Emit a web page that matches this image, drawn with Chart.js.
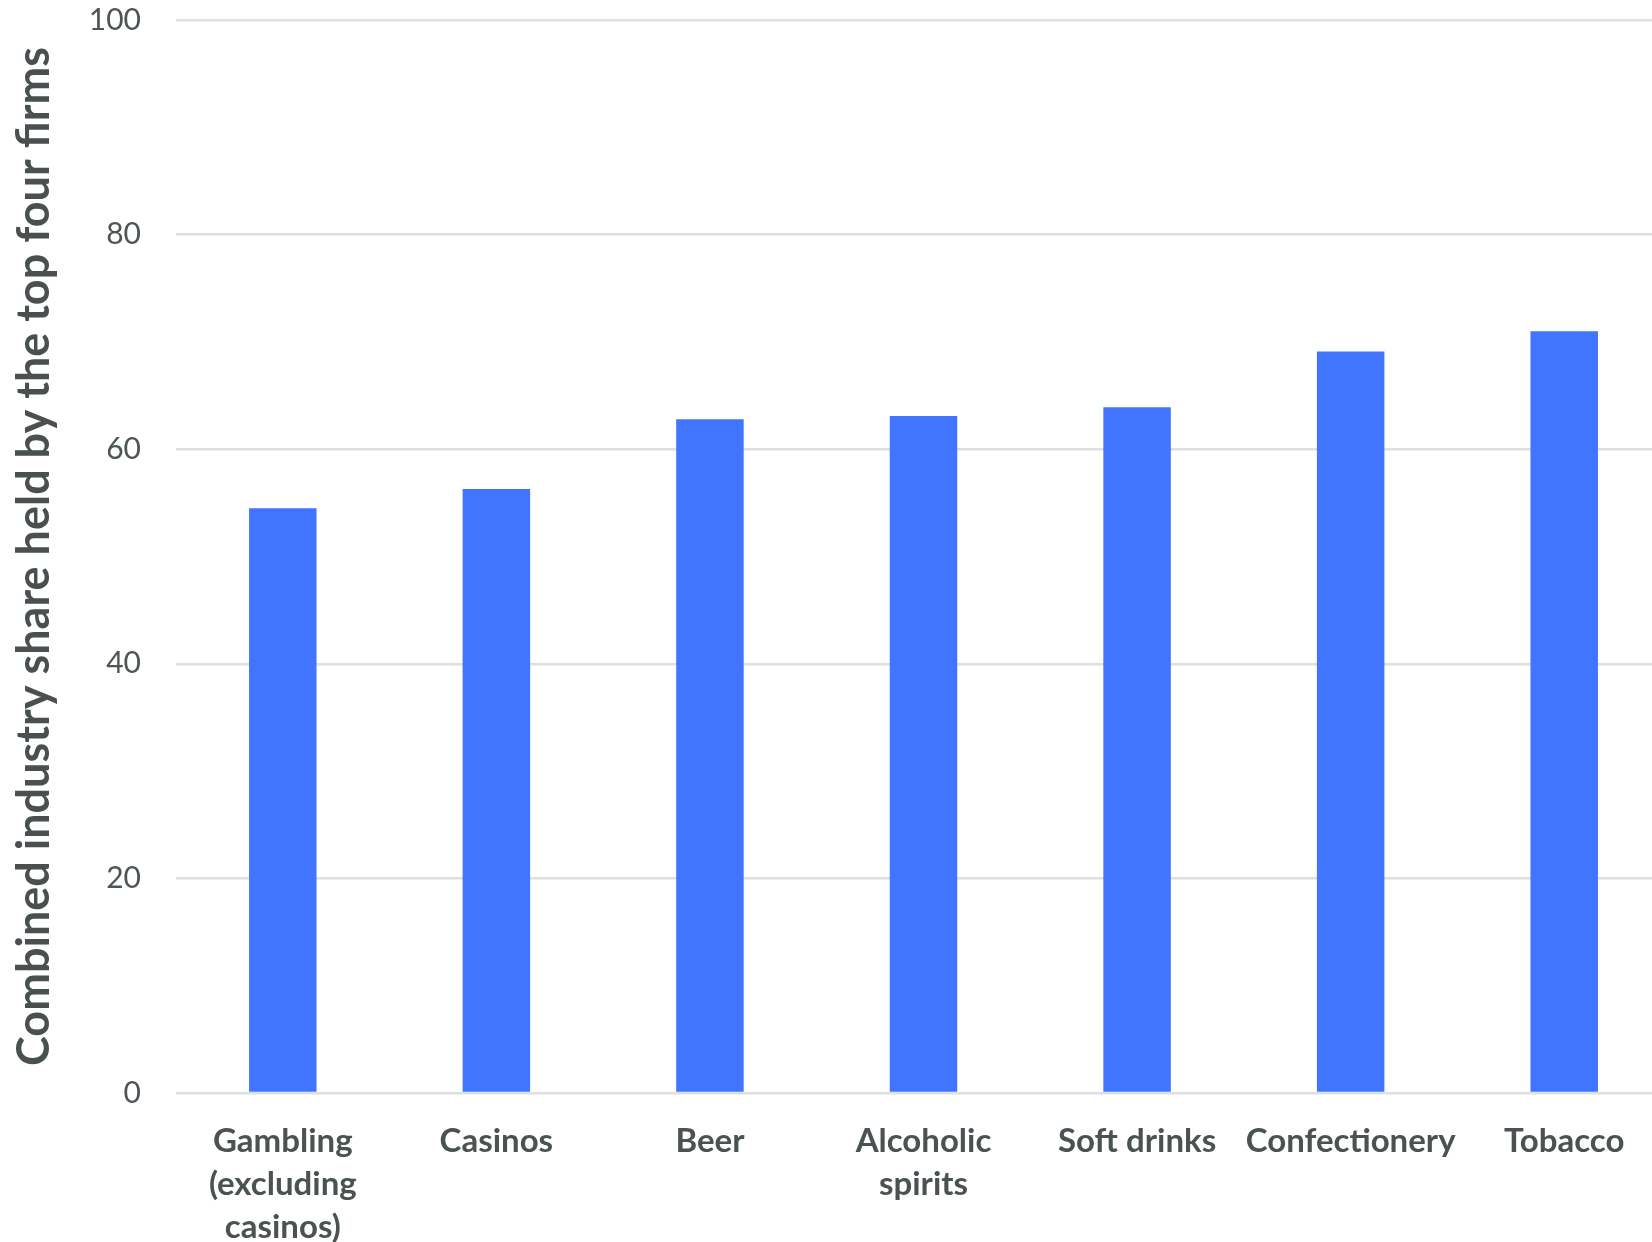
<!DOCTYPE html>
<html>
<head>
<meta charset="utf-8">
<script src="https://cdn.jsdelivr.net/npm/chart.js@4/dist/chart.umd.min.js"></script>
<style>
  html, body { margin: 0; padding: 0; background: #fff; overflow: hidden; }
  #wrap { width: 1672px; height: 1242px; position: relative; }
</style>
</head>
<body>
<div id="wrap"><canvas id="myChart"></canvas></div>
<script>
const industries = [
  ["Gambling", "(excluding", "casinos)"],
  "Casinos",
  "Beer",
  ["Alcoholic", "spirits"],
  "Soft drinks",
  "Confectionery",
  "Tobacco",
];
const topFourShare = [54.5, 56.3, 62.8, 63.1, 63.9, 69.1, 71.0];
const yTicks = [0, 20, 40, 60, 80, 100];

const ctx = document.getElementById("myChart");

const chart = new Chart(ctx, {
  type: "bar",
  data: {
    labels: industries,
    datasets: [
      {
        label: "Top four share",
        data: topFourShare,
        backgroundColor: "#4174ff",
        borderWidth: 0,
        categoryPercentage: 1,
        barPercentage: 0.316,
      },
    ],
  },
  options: {
    responsive: true,
    maintainAspectRatio: false,
    animation: false,
    layout: {
      padding: { top: 20, right: 1, left: 0, bottom: 0 },
    },
    plugins: {
      legend: { display: false },
      tooltip: { enabled: false },
    },
    scales: {
      x: {
        grid: { display: false },
        border: { display: false },
        ticks: {
          color: "#4a5252",
          padding: 19,
          maxRotation: 0,
          autoSkip: false,
          font: { family: "Lato", size: 33, weight: "bold", lineHeight: 1.3 },
        },
        afterFit: function (scale) {
          scale.height = 149;
        },
      },
      y: {
        min: 0,
        max: 100,
        afterBuildTicks: function (scale) {
          scale.ticks = yTicks.map((v) => ({ value: v }));
        },
        grid: {
          color: "#dbe0e0",
          lineWidth: 2.5,
          drawTicks: false,
        },
        border: { display: false },
        ticks: {
          color: "#4d5555",
          padding: 35,
          font: { family: "Lato", size: 30, lineHeight: 1.2 },
        },
        title: {
          display: true,
          text: "Combined industry share held by the top four firms",
          color: "#4a5050",
          padding: { top: 9, bottom: 0 },
          font: { family: "Lato", size: 45, weight: "bold", lineHeight: 1.15 },
        },
        afterFit: function (scale) {
          scale.width = 176;
          scale.paddingTop = 0;
          scale.paddingBottom = 0;
        },
      },
    },
  },
});
</script>
</body>
</html>
